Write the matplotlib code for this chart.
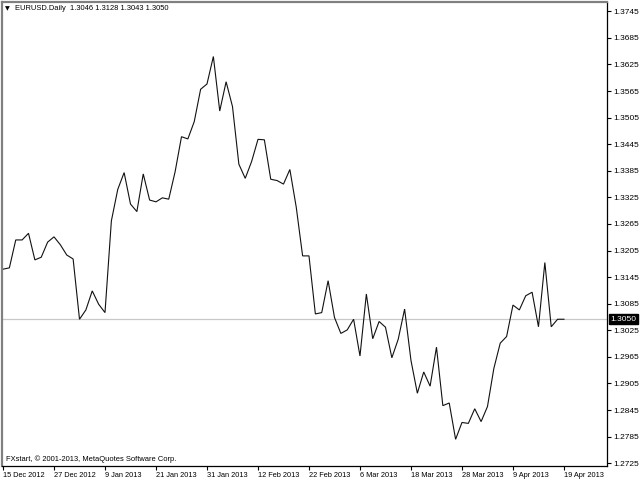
import numpy as np
import matplotlib
matplotlib.use("Agg")
import matplotlib.pyplot as plt

# Daily closes of EURUSD (bar index 0..88)
closes = [
    1.3163, 1.3166, 1.3229, 1.3229, 1.3244, 1.3184, 1.3190, 1.3224, 1.3236, 1.3218,
    1.3195, 1.3186, 1.3050, 1.3071, 1.3114, 1.3084, 1.3065, 1.3272, 1.3343, 1.3381,
    1.3310, 1.3293, 1.3378, 1.3319, 1.3315, 1.3324, 1.3321, 1.3383, 1.3462, 1.3457,
    1.3496, 1.3569, 1.3581, 1.3643, 1.3520, 1.3586, 1.3530, 1.3400, 1.3368, 1.3406,
    1.3456, 1.3455, 1.3366, 1.3363, 1.3355, 1.3388, 1.3303, 1.3193, 1.3193, 1.3062,
    1.3065, 1.3137, 1.3054, 1.3018, 1.3026, 1.3050, 1.2967, 1.3107, 1.3006, 1.3045,
    1.3032, 1.2963, 1.3005, 1.3073, 1.2957, 1.2883, 1.2931, 1.2899, 1.2987, 1.2855,
    1.2861, 1.2779, 1.2817, 1.2815, 1.2848, 1.2819, 1.2853, 1.2939, 1.2996, 1.3011,
    1.3082, 1.3071, 1.3103, 1.3111, 1.3033, 1.3178, 1.3033, 1.3050, 1.3050,
]
date_labels = ["15 Dec 2012", "27 Dec 2012", "9 Jan 2013", "21 Jan 2013", "31 Jan 2013",
               "12 Feb 2013", "22 Feb 2013", "6 Mar 2013", "18 Mar 2013", "28 Mar 2013",
               "9 Apr 2013", "19 Apr 2013"]
label_step = 8
price_ticks = [1.3745, 1.3685, 1.3625, 1.3565, 1.3505, 1.3445, 1.3385, 1.3325, 1.3265,
               1.3205, 1.3145, 1.3085, 1.3025, 1.2965, 1.2905, 1.2845, 1.2785, 1.2725]
last_price = 1.3050
header = "EURUSD.Daily  1.3046 1.3128 1.3043 1.3050"
footer = "FXstart, \u00a9 2001-2013, MetaQuotes Software Corp."

FONT = "Liberation Sans"

fig = plt.figure(figsize=(6.4, 4.8), dpi=100)
W, H = 640, 480
left, right, top, bottom = 2, 607, 2, 466
ax = fig.add_axes([left / W, 1 - bottom / H, (right - left) / W, (bottom - top) / H])

x = np.arange(len(closes))
ax.plot(x, closes, color="#111111", lw=0.8, solid_joinstyle="miter")
ax.axhline(last_price, color="#c8c8c8", lw=0.9, zorder=0)

ax.set_xlim(-0.157, 94.75)
ax.set_ylim(1.27188, 1.37660)

ax.yaxis.tick_right()
ax.set_yticks(price_ticks)
ax.set_yticklabels([f"{v:.4f}" for v in price_ticks])
ax.tick_params(axis="y", direction="out", length=3, width=0.8, pad=1.5,
               labelsize=6.0, colors="black")
for t in ax.get_yticklabels():
    t.set_fontfamily(FONT)

xt = np.arange(0, len(closes), label_step)
ax.set_xticks(xt)
ax.set_xticklabels(date_labels[:len(xt)])
ax.tick_params(axis="x", direction="out", length=3, width=0.8, pad=1,
               labelsize=5.3, colors="black")
for t in ax.get_xticklabels():
    t.set_fontfamily(FONT)
    t.set_horizontalalignment("left")

for s in ["left", "top"]:
    ax.spines[s].set_color("#808080")
    ax.spines[s].set_linewidth(1.6)
for s in ["right", "bottom"]:
    ax.spines[s].set_color("black")
    ax.spines[s].set_linewidth(0.9)

# last price tag
ax.annotate(f"{last_price:.4f}", xy=(1.0, last_price), xycoords=("axes fraction", "data"),
            xytext=(2.5, 0), textcoords="offset points", va="center", ha="left",
            fontsize=6.0, family=FONT, color="white",
            bbox=dict(boxstyle="square,pad=0.2", fc="black", ec="black"),
            annotation_clip=False)

fig.text(5 / W, 1 - 9 / H, "\u25bc", fontsize=4.5, family="DejaVu Sans", va="center", ha="left")
fig.text(15 / W, 1 - 9 / H, header, fontsize=5.4, family=FONT, va="center", ha="left")
fig.text(6 / W, 1 - 459 / H, footer, fontsize=5.4, family=FONT, va="center", ha="left")

fig.savefig("out.png", dpi=100, facecolor="white")
